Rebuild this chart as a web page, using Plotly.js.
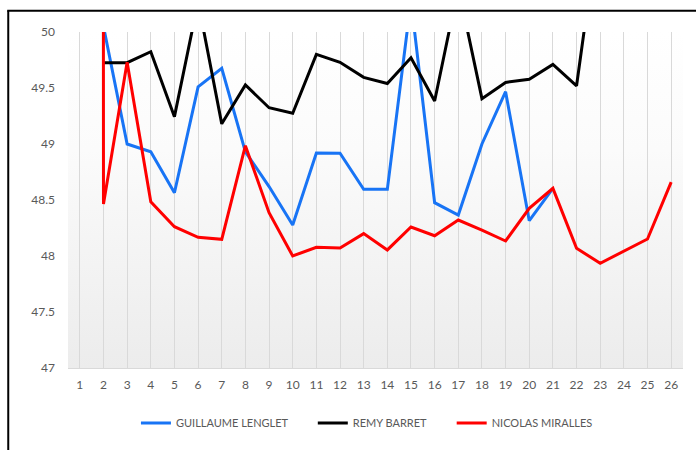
<!DOCTYPE html>
<html>
<head>
<meta charset="utf-8">
<script src="https://cdn.plot.ly/plotly-3.0.1.min.js"></script>
<style>
html,body{margin:0;padding:0;background:#fff;}
#chart{width:696px;height:450px;}
</style>
</head>
<body>
<div id="chart"></div>
<script>
var categories = ["1","2","3","4","5","6","7","8","9","10","11","12","13","14","15","16","17","18","19","20","21","22","23","24","25","26"];
var guillaumeLenglet = [null, 50.05, 49.0, 48.93, 48.565, 49.51, 49.675, 48.93, 48.62, 48.277, 48.92, 48.917, 48.595, 48.595, 50.28, 48.476, 48.366, 49.0, 49.467, 48.315, 48.604, null, null, null, null, null];
var remyBarret = [null, 49.726, 49.726, 49.824, 49.244, 50.27, 49.18, 49.527, 49.324, 49.274, 49.80, 49.73, 49.595, 49.54, 49.77, 49.384, 50.40, 49.405, 49.55, 49.578, 49.71, 49.52, 51.05, null, null, null];
var nicolasMiralles = [485, 48.464, 49.73, 48.485, 48.262, 48.167, 48.149, 48.985, 48.387, 48.0, 48.078, 48.071, 48.20, 48.054, 48.259, 48.181, 48.321, 48.232, 48.134, 48.426, 48.604, 48.069, 47.935, 48.047, 48.152, 48.66];
var seriesNames = ["GUILLAUME LENGLET", "REMY BARRET", "NICOLAS MIRALLES"];
var yTicks = [47, 47.5, 48, 48.5, 49, 49.5, 50];

var W = 696, H = 450;
var mL = 68, mR = 12.5, mT = 32, mB = 82;
var pw = W - mL - mR, ph = H - mT - mB;
function px2x(p){ return (p - mL) / pw; }
function py2y(p){ return (H - mB - p) / ph; }

var grad = 'data:image/svg+xml;utf8,' + encodeURIComponent(
  '<svg xmlns="http://www.w3.org/2000/svg" width="100" height="100" preserveAspectRatio="none">' +
  '<defs><linearGradient id="g" x1="0" y1="0" x2="0" y2="1">' +
  '<stop offset="0" stop-color="#ffffff"/><stop offset="0.35" stop-color="#fbfbfb"/><stop offset="1" stop-color="#ececec"/>' +
  '</linearGradient></defs><rect width="100" height="100" fill="url(#g)"/></svg>');

var legendFont = {family: 'Lato, "Open Sans", sans-serif', size: 11, color: '#595959'};
var tickFont = {family: 'Lato, "Open Sans", sans-serif', size: 12, color: '#595959'};

var traces = [
  {x: categories, y: guillaumeLenglet, name: seriesNames[0], type: 'scatter', mode: 'lines', line: {color: '#1874F5', width: 3}, legend: 'legend', connectgaps: false},
  {x: categories, y: remyBarret, name: seriesNames[1], type: 'scatter', mode: 'lines', line: {color: '#000000', width: 3}, legend: 'legend2', connectgaps: false},
  {x: categories, y: nicolasMiralles, name: seriesNames[2], type: 'scatter', mode: 'lines', line: {color: '#FF0000', width: 3}, legend: 'legend3', connectgaps: false}
];

function leg(xpx){
  return {x: px2x(xpx), xanchor: 'left', y: py2y(423), yanchor: 'middle', orientation: 'h',
          bgcolor: 'rgba(0,0,0,0)', borderwidth: 0, font: legendFont, itemwidth: 30};
}

var layout = {
  width: W, height: H,
  margin: {l: mL, r: mR, t: mT, b: mB, pad: 0},
  paper_bgcolor: '#ffffff',
  plot_bgcolor: 'rgba(0,0,0,0)',
  showlegend: true,
  legend: leg(136),
  legend2: leg(313),
  legend3: leg(452),
  xaxis: {
    type: 'category',
    categoryorder: 'array', categoryarray: categories,
    range: [-0.5, 25.5],
    showgrid: true, gridcolor: '#d9d9d9', gridwidth: 1,
    showline: true, linecolor: '#d9d9d9', linewidth: 1,
    zeroline: false, ticks: '',
    tickfont: tickFont,
    ticklabelstandoff: 6
  },
  yaxis: {
    range: [47, 50],
    tickvals: yTicks, ticktext: yTicks.map(String),
    showgrid: false, zeroline: false, showline: false, ticks: '',
    tickfont: tickFont,
    ticklabelstandoff: 12
  },
  images: [{source: grad, xref: 'paper', yref: 'paper', x: 0, y: 1, sizex: 1, sizey: 1,
            xanchor: 'left', yanchor: 'top', sizing: 'stretch', layer: 'below'}],
  shapes: [
    {type: 'line', xref: 'paper', yref: 'paper', x0: px2x(8.2), x1: px2x(8.2), y0: py2y(10.5), y1: py2y(470), line: {color: '#000000', width: 2}},
    {type: 'line', xref: 'paper', yref: 'paper', x0: px2x(7.2), x1: px2x(720), y0: py2y(10.7), y1: py2y(10.7), line: {color: '#000000', width: 2}}
  ]
};

Plotly.newPlot('chart', traces, layout, {staticPlot: true, displayModeBar: false});
</script>
</body>
</html>
